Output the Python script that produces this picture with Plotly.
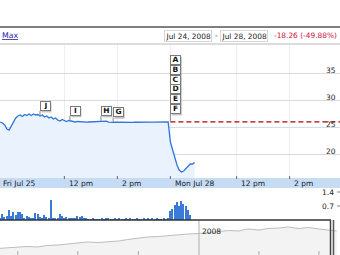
import numpy as np
import plotly.graph_objects as go

W, H = 340, 255
FONT = "DejaVu Sans"

# ---------------- data ----------------
# price, 5-minute samples; x measured in trading-session hours (Fri 9:30 = 0, Mon 9:30 = 6.5)
fri_price = [26.02, 25.93, 25.74, 25.37, 24.63, 24.44, 25.19, 26.20, 26.67, 27.04,
             27.22, 26.94, 27.31, 27.13, 27.41, 27.13, 27.41, 27.22, 27.31, 27.04,
             27.22, 26.85, 27.04, 26.67, 26.85, 26.48, 26.67, 26.30, 26.11, 26.39,
             26.20, 26.02, 26.20, 26.11, 26.02, 25.93, 26.02, 25.98, 25.91, 25.93,
             25.89, 25.93, 25.96, 25.91, 25.93, 26.00, 26.10, 26.15, 26.12, 26.08,
             25.90, 25.85, 25.87, 25.90, 25.88, 25.86, 25.90, 25.88, 25.87, 25.90,
             25.89, 25.86, 25.88, 25.90, 25.87, 25.89, 25.88, 25.90, 25.91, 25.89,
             25.90, 25.92, 25.90, 25.93, 25.91, 25.90, 25.92, 25.93]
mon_price = [22.22, 20.74, 19.26, 17.96, 17.04, 16.67, 16.85, 17.31, 17.78, 18.15,
             18.15, 18.43]
prev_close = 25.95

# volume in millions, 5-minute bars
fri_volume = [0.20, 0.12, 0.28, 0.15, 0.22, 0.50, 0.18, 0.42, 0.25, 0.38,
              0.42, 0.28, 0.12, 0.22, 0.17, 0.08, 0.12, 0.33, 0.30, 0.17,
              0.07, 0.25, 0.17, 0.06, 1.00, 0.11, 0.08, 0.06, 0.28, 0.22,
              0.08, 0.17, 0.07, 0.12, 0.08, 0.10, 0.20, 0.17, 0.20, 0.07,
              0.09, 0.05, 0.04, 0.06, 0.05, 0.04, 0.05, 0.09, 0.05, 0.06,
              0.08, 0.05, 0.04, 0.06, 0.05, 0.07, 0.04, 0.05, 0.06, 0.05,
              0.08, 0.05, 0.04, 0.06, 0.05, 0.05, 0.07, 0.04, 0.06, 0.05,
              0.09, 0.05, 0.06, 0.04, 0.05, 0.07, 0.05, 0.08]
mon_volume = [0.43, 0.57, 0.73, 0.90, 0.70, 0.93, 0.82, 0.70, 0.48, 0.23]

price_ticks = [20, 25, 30, 35]
vol_ticks = [0.7, 1.4]
vol_tick_labels = ["0.7", "1.4"]
time_tick_hours = [0, 2.5, 4.5, 6.5, 9.0, 11.0]
time_tick_labels = ["Fri Jul 25", "12 pm", "2 pm", "Mon Jul 28", "12 pm", "2 pm"]

flag_letters = ["J", "I", "H", "G"]
flag_hours = [1.58, 2.71, 3.88, 4.34]
stack_letters = ["F", "E", "D", "C", "B", "A"]   # bottom to top
stack_hour = 6.5

overview_dates = ["2007-03-01", "2007-03-15", "2007-04-01", "2007-04-15", "2007-05-01",
                  "2007-05-15", "2007-06-01", "2007-06-15", "2007-07-01", "2007-07-15",
                  "2007-08-01", "2007-08-15", "2007-09-01", "2007-09-15", "2007-10-01",
                  "2007-10-15", "2007-11-01", "2007-11-15", "2007-12-01", "2007-12-15",
                  "2008-01-01", "2008-01-15", "2008-02-01", "2008-02-15", "2008-03-01",
                  "2008-03-15", "2008-04-01", "2008-04-15", "2008-05-01", "2008-05-15",
                  "2008-06-01", "2008-06-15", "2008-07-01", "2008-07-15", "2008-07-28"]
overview_values = [6.5, 7.0, 7.5, 8.5, 8.0, 9.5, 10.0, 11.0, 11.5, 13.0,
                   12.5, 13.0, 14.0, 15.5, 17.0, 18.0, 18.5, 19.5, 20.0, 21.0,
                   21.5, 22.5, 23.0, 24.5, 24.0, 26.0, 25.0, 26.5, 27.0, 28.0,
                   26.5, 27.5, 26.0, 25.0, 24.0]
overview_quarters = ["2007-04-01", "2007-07-01", "2007-10-01", "2008-04-01", "2008-07-01"]
year_mark = "2008-01-01"

# ---------------- helpers ----------------
def py(p):  # pixel row -> paper y
    return 1 - p / H

def pxp(p):  # pixel column -> paper x
    return p / W

fri_hours = np.arange(len(fri_price)) / 12.0
mon_hours = stack_hour + np.arange(len(mon_price)) / 12.0
hours = np.concatenate([fri_hours, mon_hours])
price = np.array(fri_price + mon_price)
vol_hours = np.concatenate([fri_hours, stack_hour + np.arange(len(mon_volume)) / 12.0])
volume = fri_volume + mon_volume

XR = [0.072, 12.90]
YR = [15.556, 40.185]

def hx(h_):  # session hour -> paper x (same linear scale as the x axis)
    return (h_ - XR[0]) / (XR[1] - XR[0])

fig = go.Figure()
fig.add_trace(go.Scatter(x=hours, y=price, mode="lines",
                         line=dict(color="#2f76da", width=1.3),
                         fill="tozeroy", fillcolor="#eaf3fd", hoverinfo="skip"))
fig.add_trace(go.Bar(x=vol_hours, y=volume, xaxis="x2", yaxis="y2", width=0.055,
                     marker=dict(color="#3a7ad8", line=dict(width=0)), hoverinfo="skip"))
fig.add_trace(go.Scatter(x=overview_dates, y=overview_values, xaxis="x3", yaxis="y3",
                         mode="lines", line=dict(color="#bdbdbd", width=1),
                         fill="tozeroy", fillcolor="#f3f3f3", hoverinfo="skip"))

ax_common = dict(showticklabels=False, zeroline=False, showline=False, ticks="")
fig.update_layout(
    width=W, height=H, margin=dict(l=0, r=0, t=0, b=0),
    paper_bgcolor="white", plot_bgcolor="white", showlegend=False,
    font=dict(family=FONT, size=7.5, color="#222"),
    xaxis=dict(domain=[0, 1], range=XR, anchor="y", showgrid=True,
               tickmode="array", tickvals=time_tick_hours[1:], gridcolor="#eceef6",
               gridwidth=1, **ax_common),
    yaxis=dict(domain=[py(178), py(45)], range=YR, showgrid=True, tickmode="array",
               tickvals=price_ticks, gridcolor="#d6daeb", gridwidth=1, **ax_common),
    xaxis2=dict(domain=[0, 1], range=XR, anchor="y2", showgrid=False, **ax_common),
    yaxis2=dict(domain=[py(220), py(188)], range=[0, 1.6], showgrid=False, **ax_common),
    xaxis3=dict(domain=[0, 1], range=["2007-03-05", "2008-08-02"], anchor="y3",
                type="date", showgrid=False, **ax_common),
    yaxis3=dict(domain=[0, py(221)], range=[0, 34], showgrid=False, **ax_common),
    bargap=0,
)

shapes = []
ann = []

# toolbar
TB = 7.4
shapes.append(dict(type="line", xref="paper", yref="paper", x0=0, x1=1, y0=py(27), y1=py(27),
                   line=dict(color="#555", width=1.5)))
shapes.append(dict(type="line", xref="paper", yref="paper", x0=0, x1=1, y0=py(44), y1=py(44),
                   line=dict(color="#d0d0d0", width=1.5)))
ann.append(dict(x=0, y=py(36), xref="paper", yref="paper", xanchor="left", yanchor="middle",
                text="<u>Max</u>", showarrow=False, font=dict(size=7.8, color="#1a1aa6")))
ann.append(dict(x=pxp(188), y=py(36), xref="paper", yref="paper", xanchor="center",
                yanchor="middle", text="Jul 24, 2008", showarrow=False, borderpad=0.5,
                bordercolor="#d8d8d8", borderwidth=1, font=dict(size=TB, color="#222")))
ann.append(dict(x=pxp(216), y=py(36), xref="paper", yref="paper", xanchor="center",
                yanchor="middle", text="-", showarrow=False, font=dict(size=TB, color="#222")))
ann.append(dict(x=pxp(244), y=py(36), xref="paper", yref="paper", xanchor="center",
                yanchor="middle", text="Jul 28, 2008", showarrow=False, borderpad=0.5,
                bordercolor="#d8d8d8", borderwidth=1, font=dict(size=TB, color="#222")))
ann.append(dict(x=pxp(339), y=py(36), xref="paper", yref="paper", xanchor="right",
                yanchor="middle", text="-18.26 (-49.88%)", showarrow=False,
                font=dict(size=TB, color="#c8103c")))

# price axis labels
for v in price_ticks:
    ann.append(dict(x=pxp(338), y=v, xref="paper", yref="y", xanchor="right", yanchor="middle",
                    yshift=2.5, text=str(v), showarrow=False, font=dict(size=7.5, color="#222")))

# previous close dashed line (Monday part)
shapes.append(dict(type="line", xref="x", yref="y", x0=stack_hour, x1=XR[1],
                   y0=prev_close, y1=prev_close,
                   line=dict(color="#b00000", width=1.3, dash="5px,3px")))

# time axis band
shapes.append(dict(type="rect", xref="paper", yref="paper", x0=0, x1=1, y0=py(188), y1=py(178),
                   fillcolor="#c6dcf4", line=dict(width=0), layer="above"))
for h_, lab in zip(time_tick_hours, time_tick_labels):
    ann.append(dict(x=max(hx(h_), 0), y=py(183), xref="paper", yref="paper", xanchor="left",
                    yanchor="middle", xshift=2.5 if h_ > 0 else 0.5, text=lab, showarrow=False,
                    font=dict(size=7.5, color="#1a1a1a")))
    if h_ > 0:
        shapes.append(dict(type="line", xref="x", yref="paper", x0=h_, x1=h_,
                           y0=py(179), y1=py(176), line=dict(color="#666", width=1)))

# volume labels
for v, lab in zip(vol_ticks, vol_tick_labels):
    ann.append(dict(x=pxp(336), y=v, xref="paper", yref="y2", xanchor="right", yanchor="middle",
                    text=lab, showarrow=False, font=dict(size=7.5, color="#222")))
    shapes.append(dict(type="line", xref="paper", yref="y2", x0=pxp(337), x1=pxp(340),
                       y0=v, y1=v, line=dict(color="#888", width=1)))

# overview frame
shapes.append(dict(type="line", xref="paper", yref="paper", x0=0, x1=pxp(331), y0=py(220),
                   y1=py(220), line=dict(color="#333", width=1.5)))
shapes.append(dict(type="line", xref="paper", yref="paper", x0=pxp(330.5), x1=pxp(330.5),
                   y0=0, y1=py(220), line=dict(color="#444", width=1.5)))
shapes.append(dict(type="line", xref="paper", yref="paper", x0=pxp(333.5), x1=pxp(333.5),
                   y0=0, y1=py(220), line=dict(color="#555", width=1.5)))
shapes.append(dict(type="line", xref="x3", yref="paper", x0=year_mark, x1=year_mark,
                   y0=0, y1=py(221), line=dict(color="#b0b0b0", width=1)))
for q in overview_quarters:
    shapes.append(dict(type="line", xref="x3", yref="paper", x0=q, x1=q,
                       y0=0, y1=py(251), line=dict(color="#aaa", width=1)))
ann.append(dict(x=year_mark, y=py(231), xref="x3", yref="paper", xanchor="left",
                yanchor="middle", xshift=1.5, text="2008", showarrow=False,
                font=dict(size=7.5, color="#222")))

# flags: shadow rect (pixel sized) + white labelled box
def add_flag(letter, xh, yv, lift):
    shapes.append(dict(type="rect", xref="x", yref="y", xsizemode="pixel", ysizemode="pixel",
                       xanchor=xh, yanchor=yv, x0=1.5, x1=11.5, y0=lift - 1.5, y1=lift + 8,
                       fillcolor="#c4c4c4", line=dict(width=0), layer="above"))
    ann.append(dict(x=xh, y=yv, xref="x", yref="y", xanchor="left", yanchor="bottom",
                    showarrow=False, width=8, height=6.5, borderpad=0.5, borderwidth=1,
                    text="<b>%s</b>" % letter, yshift=lift, bgcolor="white",
                    bordercolor="#7a7a7a", font=dict(size=7.5, color="#111")))

for letter, fh in zip(flag_letters, flag_hours):
    yv = float(np.interp(fh, hours, price))
    shapes.append(dict(type="line", xref="x", yref="y", ysizemode="pixel", yanchor=yv,
                       x0=fh, x1=fh, y0=0, y1=5, line=dict(color="#888", width=1)))
    add_flag(letter, fh, yv, 5)

stack_base = fri_price[-1]
shapes.append(dict(type="line", xref="x", yref="y", ysizemode="pixel", yanchor=stack_base,
                   x0=stack_hour, x1=stack_hour, y0=0, y1=8, line=dict(color="#888", width=1)))
for j, letter in enumerate(stack_letters):
    add_flag(letter, stack_hour, stack_base, 8 + 9.8 * j)

fig.update_layout(shapes=shapes, annotations=ann)
fig.write_html("out.html")
